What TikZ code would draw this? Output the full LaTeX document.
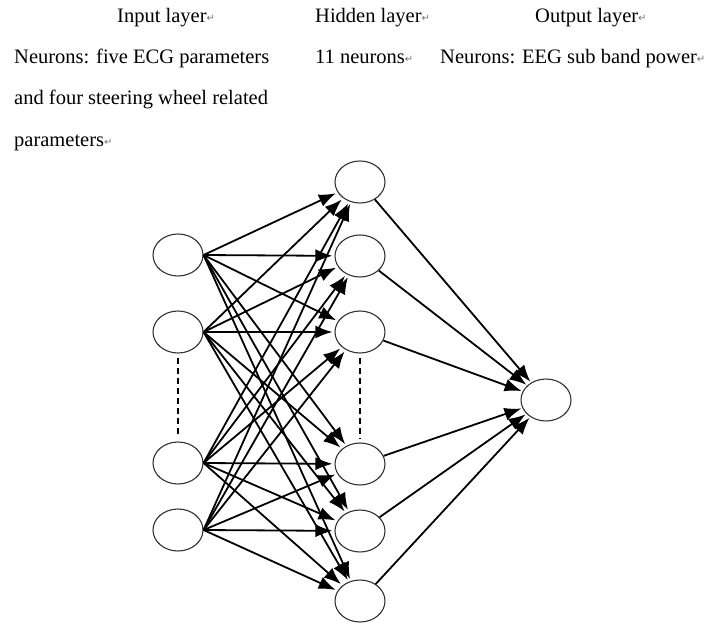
\documentclass[tikz,border=0pt]{standalone}
\usepackage{fontspec}
\setmainfont{Liberation Serif}
\newfontfamily\symfont{DejaVu Sans}
\usetikzlibrary{shapes.geometric,arrows.meta}
\newcommand{\pmark}{{\symfont\fontsize{10}{10}\selectfont\color{black!55}\raisebox{0.5pt}{↵}}}
\begin{document}
\begin{tikzpicture}[x=1pt,y=-1pt,
  neuron/.style={draw=black!80,line width=1.1pt,ellipse,minimum width=50pt,minimum height=42pt,inner sep=0pt},
  conn/.style={line width=1.8pt,-{Latex[length=17pt,width=13pt]}},
  dots/.style={line width=1.4pt,dash pattern=on 6pt off 4pt},
  lbl/.style={anchor=base west,inner sep=0pt,font=\fontsize{20.5}{20.5}\selectfont}]
\useasboundingbox (0,0) rectangle (721,625);
% texts
\node[lbl] (t1) at (117,22) {Input layer\pmark};
\node[lbl] (t2) at (315,22) {Hidden layer\pmark};
\node[lbl] (t3) at (535,22) {Output layer\pmark};
\node[lbl] (t4) at (14,63) {Neurons: five ECG parameters};
\node[lbl] (t5) at (315,63) {11 neurons\pmark};
\node[lbl] (t6) at (440,63) {Neurons: EEG sub band power\pmark};
\node[lbl] (t7) at (14,104) {and four steering wheel related};
\node[lbl] (t8) at (14,146) {parameters\pmark};
% neurons
\node[neuron] (i1) at (178,255) {};
\node[neuron] (i2) at (178,332) {};
\node[neuron] (i3) at (178,463) {};
\node[neuron] (i4) at (178,530) {};
\node[neuron] (h1) at (360,182) {};
\node[neuron] (h2) at (360,256) {};
\node[neuron] (h3) at (360,332) {};
\node[neuron] (h4) at (360,464) {};
\node[neuron] (h5) at (360,531) {};
\node[neuron] (h6) at (360,601) {};
\node[neuron] (o1) at (546,400) {};
% dashed gaps
\draw[dots] ([yshift=-4pt]i2.south) -- ([yshift=4pt]i3.north);
\draw[dots] ([yshift=-4pt]h3.south) -- ([yshift=4pt]h4.north);
% connections
\foreach \i in {1,2,3,4}{
  \foreach \h in {1,...,6}{
    \draw[conn,shorten >=2pt] (i\i.east) -- (h\h);
  }
}
\foreach \h in {1,...,6}{
  \draw[conn,shorten >=1pt] (h\h) -- (o1);
}
\end{tikzpicture}
\end{document}
